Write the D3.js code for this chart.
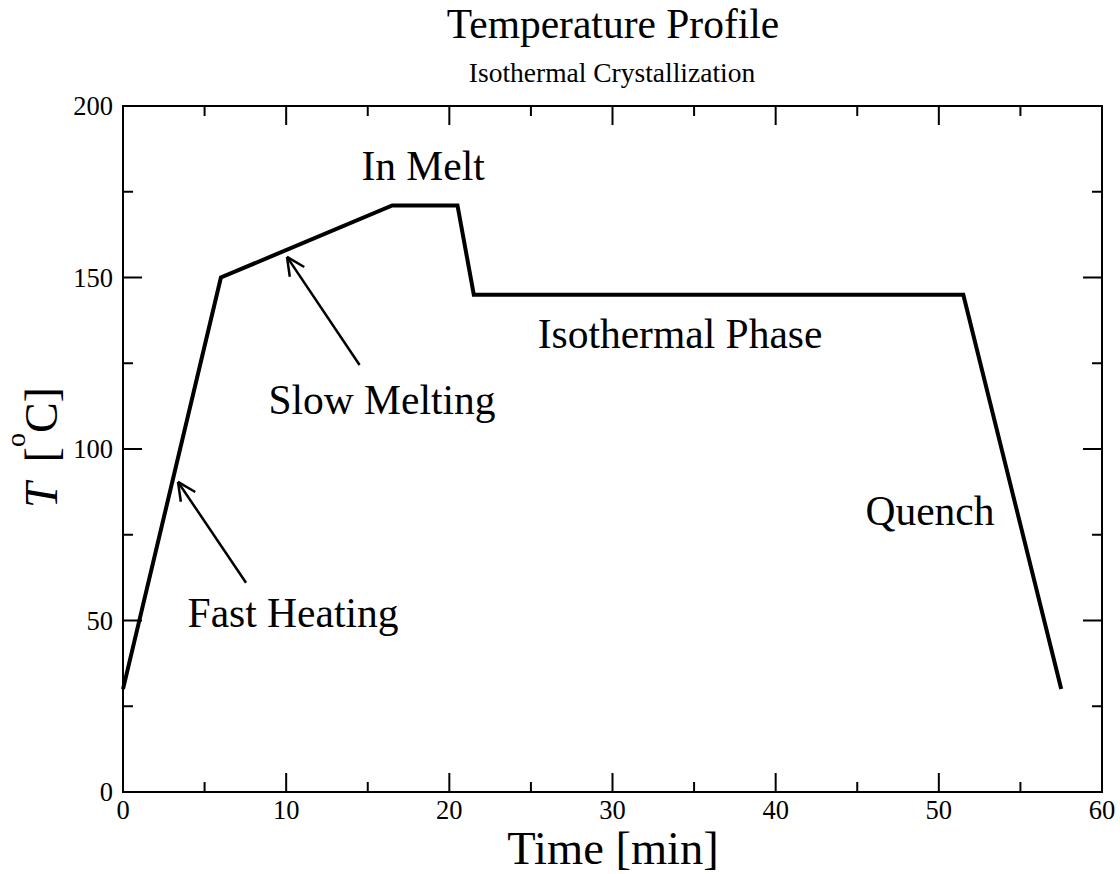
<!DOCTYPE html>
<html><head><meta charset="utf-8">
<script src="https://cdn.jsdelivr.net/npm/d3@7"></script>
<style>body{margin:0;background:#fff}svg{display:block}text{font-family:"Liberation Serif","Times New Roman",serif;fill:#000}</style>
</head><body><svg id="c" width="1120" height="874"></svg>
<script>
const times = [0, 6, 16.5, 20.5, 21.5, 51.5, 57.5];
const temps = [30, 150, 171, 171, 145, 145, 30];
const xMajor = [0, 10, 20, 30, 40, 50, 60];
const yMajor = [0, 50, 100, 150, 200];
const labels = [
  {text: "In Melt", t: 18.39, T: 178.4},
  {text: "Isothermal Phase", t: 34.14, T: 129.4},
  {text: "Slow Melting", t: 15.87, T: 110.2},
  {text: "Fast Heating", t: 10.42, T: 48.1},
  {text: "Quench", t: 49.46, T: 77.8}
];
const arrows = [
  {from: [14.5, 124.5], to: [10.05, 156]},
  {from: [7.54, 61], to: [3.37, 90.4]}
];

const svg = d3.select("#c");
const L = 123, R = 1102, T = 106, B = 792;
const x = d3.scaleLinear().domain([0, 60]).range([L, R]);
const y = d3.scaleLinear().domain([0, 200]).range([B, T]);

const xMinor = d3.range(5, 60, 10), yMinor = d3.range(25, 200, 50);
const g = svg.append("g").attr("stroke", "#000").attr("stroke-width", 2);
xMajor.forEach(v => { g.append("line").attr("x1", x(v)).attr("x2", x(v)).attr("y1", B).attr("y2", B - 19);
  g.append("line").attr("x1", x(v)).attr("x2", x(v)).attr("y1", T).attr("y2", T + 19); });
xMinor.forEach(v => { g.append("line").attr("x1", x(v)).attr("x2", x(v)).attr("y1", B).attr("y2", B - 10);
  g.append("line").attr("x1", x(v)).attr("x2", x(v)).attr("y1", T).attr("y2", T + 10); });
yMajor.forEach(v => { g.append("line").attr("y1", y(v)).attr("y2", y(v)).attr("x1", L).attr("x2", L + 19);
  g.append("line").attr("y1", y(v)).attr("y2", y(v)).attr("x1", R).attr("x2", R - 19); });
yMinor.forEach(v => { g.append("line").attr("y1", y(v)).attr("y2", y(v)).attr("x1", L).attr("x2", L + 10);
  g.append("line").attr("y1", y(v)).attr("y2", y(v)).attr("x1", R).attr("x2", R - 10); });
svg.append("rect").attr("x", L).attr("y", T).attr("width", R - L).attr("height", B - T)
  .attr("fill", "none").attr("stroke", "#000").attr("stroke-width", 2);

svg.selectAll(".xt").data(xMajor).join("text").attr("x", d => x(d)).attr("y", B + 27)
  .attr("text-anchor", "middle").attr("font-size", 26.5).text(d => d);
svg.selectAll(".yt").data(yMajor).join("text").attr("x", L - 10).attr("y", d => y(d) + 9)
  .attr("text-anchor", "end").attr("font-size", 26.5).text(d => d);

const line = d3.line().x((d, i) => x(times[i])).y(d => y(d));
svg.append("path").datum(temps).attr("d", line).attr("fill", "none")
  .attr("stroke", "#000").attr("stroke-width", 4).attr("stroke-linejoin", "miter");

arrows.forEach(a => {
  const x0 = x(a.from[0]), y0 = y(a.from[1]), x1 = x(a.to[0]), y1 = y(a.to[1]);
  const ang = Math.atan2(y1 - y0, x1 - x0), hl = 20, ha = 0.45;
  svg.append("line").attr("x1", x0).attr("y1", y0).attr("x2", x1).attr("y2", y1)
    .attr("stroke", "#000").attr("stroke-width", 2.5);
  [ang + Math.PI - ha, ang + Math.PI + ha].forEach(b => {
    svg.append("line").attr("x1", x1).attr("y1", y1)
      .attr("x2", x1 + hl * Math.cos(b)).attr("y2", y1 + hl * Math.sin(b))
      .attr("stroke", "#000").attr("stroke-width", 2.5);
  });
});

svg.selectAll(".lab").data(labels).join("text").attr("x", d => x(d.t)).attr("y", d => y(d.T))
  .attr("text-anchor", "middle").attr("font-size", 41.5).text(d => d.text);

svg.append("text").attr("x", 613).attr("y", 38).attr("text-anchor", "middle").attr("font-size", 41.5).text("Temperature Profile");
svg.append("text").attr("x", 612).attr("y", 82).attr("text-anchor", "middle").attr("font-size", 27.5).text("Isothermal Crystallization");
svg.append("text").attr("x", 613).attr("y", 864).attr("text-anchor", "middle").attr("font-size", 46.5).text("Time [min]");
const yl = svg.append("text").attr("transform", "translate(57,508) rotate(-90)").attr("text-anchor", "start").attr("font-size", 46);
yl.append("tspan").attr("font-style", "italic").text("T");
yl.append("tspan").attr("dx", 20).text("[");
yl.append("tspan").attr("font-size", 28).attr("dx", 0).attr("dy", -32).text("o");
yl.append("tspan").attr("dy", 32).text("C]");
</script></body></html>
